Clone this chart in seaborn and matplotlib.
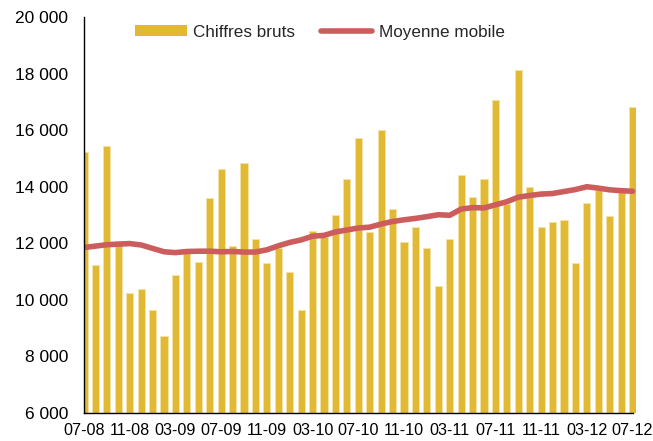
import matplotlib
matplotlib.use("Agg")
import matplotlib.pyplot as plt
import seaborn as sns
import pandas as pd
import numpy as np
from matplotlib.patches import Patch
from matplotlib.lines import Line2D

# Months 07-08 .. 07-12
months = ["07-08","08-08","09-08","10-08","11-08","12-08",
          "01-09","02-09","03-09","04-09","05-09","06-09","07-09","08-09","09-09","10-09","11-09","12-09",
          "01-10","02-10","03-10","04-10","05-10","06-10","07-10","08-10","09-10","10-10","11-10","12-10",
          "01-11","02-11","03-11","04-11","05-11","06-11","07-11","08-11","09-11","10-11","11-11","12-11",
          "01-12","02-12","03-12","04-12","05-12","06-12","07-12"]

raw = [15210, 11240, 15450, 12070, 10230, 10380, 9630, 8710, 10880, 11650,
       11350, 13610, 14620, 11890, 14840, 12150, 11320, 11850, 10970, 9650,
       12440, 12220, 13010, 14290, 15720, 12400, 16010, 13210, 12030, 12580,
       11830, 10500, 12160, 14420, 13650, 14280, 17070, 13400, 18130, 13990,
       12560, 12770, 12810, 11320, 13440, 13900, 12970, 13830, 16810]

moving = [11850, 11900, 11950, 11970, 11990, 11940, 11820, 11700, 11670, 11710,
          11720, 11720, 11700, 11710, 11690, 11690, 11770, 11910, 12030, 12120,
          12250, 12280, 12400, 12470, 12540, 12570, 12680, 12770, 12830, 12880,
          12940, 13010, 12990, 13210, 13260, 13250, 13360, 13470, 13630, 13690,
          13740, 13760, 13830, 13900, 14000, 13950, 13890, 13860, 13840]

tick_labels = ["07-08","11-08","03-09","07-09","11-09","03-10","07-10",
               "11-10","03-11","07-11","11-11","03-12","07-12"]

bar_color = "#E1B935"
line_color = "#CD5C5C"

df = pd.DataFrame({"month": months, "raw": raw, "moving": moving, "idx": np.arange(len(months))})

sns.set_theme(style="white")
plt.rcParams["font.family"] = ["Liberation Sans", "DejaVu Sans"]

fig = plt.figure(figsize=(6.53, 4.41), dpi=100)
ax = fig.add_axes([84/653, 28/441, 552/653, 396/441])

sns.barplot(data=df, x="month", y="raw", order=months, color=bar_color, saturation=1,
            width=0.62, edgecolor="#F3E3A8", linewidth=0.6, ax=ax)
sns.lineplot(data=df, x="idx", y="moving", color=line_color, linewidth=4.0, ax=ax,
             solid_capstyle="round")

ax.set_xlim(0, 48.3)
ax.set_ylim(6000, 20000)
ax.set_xticks(np.arange(0, 49, 4))
ax.set_xticklabels(tick_labels)
ax.set_yticks(np.arange(6000, 20001, 2000))
ax.set_yticklabels([f"{v:,}".replace(",", " ") for v in range(6000, 20001, 2000)])
ax.set_xlabel("")
ax.set_ylabel("")

for s in ["top", "right"]:
    ax.spines[s].set_visible(False)
for s in ["left", "bottom"]:
    ax.spines[s].set_color("black")
    ax.spines[s].set_linewidth(1.0)
ax.spines["bottom"].set_bounds(0, 48)

ax.tick_params(axis="both", direction="inout", length=7, width=0.8, color="#555555",
               labelcolor="black")
ax.tick_params(axis="y", pad=8, labelsize=12.5)
ax.tick_params(axis="x", pad=4, labelsize=11.6)

handles = [Patch(facecolor=bar_color, edgecolor="none"),
           Line2D([0], [0], color=line_color, linewidth=4.0, solid_capstyle="round")]
ax.legend(handles, ["Chiffres bruts", "Moyenne mobile"], loc="center",
          bbox_to_anchor=(0.428, 0.962), ncol=2, frameon=False, fontsize=12.3,
          handlelength=3.0, handleheight=0.6, columnspacing=1.5, handletextpad=0.4)

fig.savefig("out.png", dpi=100)
